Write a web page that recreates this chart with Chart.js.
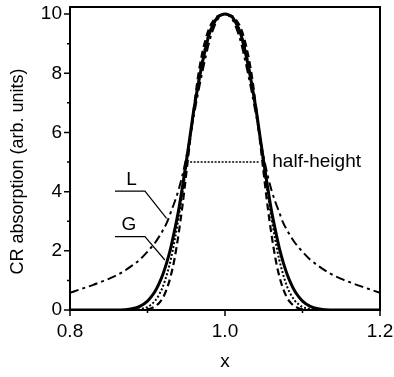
<!DOCTYPE html>
<html>
<head>
<meta charset="utf-8">
<script src="https://cdn.jsdelivr.net/npm/chart.js@4.4.1/dist/chart.umd.min.js"></script>
<style>
  html, body { margin: 0; padding: 0; background: #fff; }
</style>
</head>
<body>
<canvas id="crChart" width="394" height="377"></canvas>
<script>
const xValues = [0.80, 0.81, 0.82, 0.83, 0.84, 0.85, 0.86, 0.87, 0.88, 0.89, 0.90,
  0.905, 0.91, 0.915, 0.92, 0.925, 0.93, 0.935, 0.94, 0.945, 0.95, 0.955, 0.96, 0.965, 0.97, 0.975, 0.98, 0.985, 0.99, 0.995,
  1.00,
  1.005, 1.01, 1.015, 1.02, 1.025, 1.03, 1.035, 1.04, 1.045, 1.05, 1.055, 1.06, 1.065, 1.07, 1.075, 1.08, 1.085, 1.09, 1.095,
  1.10, 1.11, 1.12, 1.13, 1.14, 1.15, 1.16, 1.17, 1.18, 1.19, 1.20];

// solid line
const solidCurve = [0, 0, 0, 0, 0, 0, 0, 0.01, 0.04, 0.12, 0.3,
  0.45, 0.64, 0.9, 1.22, 1.62, 2.1, 2.7, 3.35, 4.15, 5.0, 5.9, 6.8, 7.55, 8.25, 8.85, 9.35, 9.65, 9.88, 9.97,
  10,
  9.97, 9.88, 9.65, 9.35, 8.85, 8.25, 7.55, 6.8, 5.9, 5.0, 4.15, 3.35, 2.7, 2.1, 1.62, 1.22, 0.9, 0.64, 0.45,
  0.3, 0.12, 0.04, 0.01, 0, 0, 0, 0, 0, 0, 0];

// dotted line
const dottedCurve = [0, 0, 0, 0, 0, 0, 0, 0, 0, 0.03, 0.1,
  0.19, 0.32, 0.52, 0.8, 1.2, 1.7, 2.35, 3.1, 3.95, 4.85, 5.85, 6.75, 7.6, 8.35, 8.95, 9.4, 9.7, 9.88, 9.95,
  10,
  9.95, 9.88, 9.7, 9.4, 8.95, 8.35, 7.6, 6.75, 5.85, 4.85, 3.95, 3.1, 2.35, 1.7, 1.2, 0.8, 0.52, 0.32, 0.19,
  0.1, 0.03, 0, 0, 0, 0, 0, 0, 0, 0, 0];

// dashed line (G)
const dashedCurve = [0, 0, 0, 0, 0, 0, 0, 0, 0, 0, 0.03,
  0.06, 0.13, 0.24, 0.42, 0.72, 1.15, 1.75, 2.55, 3.5, 4.6, 5.75, 6.85, 7.85, 8.6, 9.15, 9.55, 9.78, 9.92, 9.98,
  10,
  9.98, 9.92, 9.78, 9.55, 9.15, 8.6, 7.85, 6.85, 5.75, 4.6, 3.5, 2.55, 1.75, 1.15, 0.72, 0.42, 0.24, 0.13, 0.06,
  0.03, 0, 0, 0, 0, 0, 0, 0, 0, 0, 0];

// dash-dot line (L)
const dashDotCurve = [0.58, 0.67, 0.76, 0.85, 0.95, 1.05, 1.17, 1.32, 1.5, 1.7, 1.97,
  2.12, 2.28, 2.48, 2.7, 2.95, 3.3, 3.65, 4.05, 4.55, 5.15, 5.85, 6.6, 7.3, 7.95, 8.55, 9.1, 9.5, 9.8, 9.95,
  10,
  9.95, 9.8, 9.5, 9.1, 8.55, 7.95, 7.3, 6.6, 5.85, 5.15, 4.55, 4.05, 3.65, 3.3, 2.95, 2.7, 2.48, 2.28, 2.12,
  1.97, 1.7, 1.5, 1.32, 1.17, 1.05, 0.95, 0.85, 0.76, 0.67, 0.58];

const xTicks = [0.8, 1.0, 1.2];
const xMinorTicks = [0.9, 1.1];
const yTicks = [0, 2, 4, 6, 8, 10];
const yMinorTicks = [1, 3, 5, 7, 9];

const halfHeight = 5;
const halfLeft = 0.955;
const halfRight = 1.045;

const FONT = "'Liberation Sans', Arial, Helvetica, sans-serif";

function toPoints(ys) {
  return xValues.map((x, i) => ({ x: x, y: ys[i] }));
}

function lineSet(ys, width, dash) {
  return {
    data: toPoints(ys),
    borderColor: '#000',
    borderWidth: width,
    borderDash: dash,
    pointRadius: 0,
    fill: false,
    cubicInterpolationMode: 'monotone'
  };
}

const extras = {
  id: 'extras',
  afterDraw(chart) {
    const { ctx, chartArea: a, scales } = chart;
    const xs = scales.x, ys = scales.y;
    ctx.save();
    ctx.strokeStyle = '#000';
    ctx.fillStyle = '#000';

    // frame
    ctx.lineWidth = 2;
    ctx.strokeRect(a.left, a.top, a.right - a.left, a.bottom - a.top);

    // tick marks
    ctx.lineWidth = 1.5;
    ctx.beginPath();
    xTicks.forEach(v => { const p = xs.getPixelForValue(v); ctx.moveTo(p, a.bottom); ctx.lineTo(p, a.bottom + 6); });
    xMinorTicks.forEach(v => { const p = xs.getPixelForValue(v); ctx.moveTo(p, a.bottom); ctx.lineTo(p, a.bottom + 3); });
    yTicks.forEach(v => { const p = ys.getPixelForValue(v); ctx.moveTo(a.left, p); ctx.lineTo(a.left - 6, p); });
    yMinorTicks.forEach(v => { const p = ys.getPixelForValue(v); ctx.moveTo(a.left, p); ctx.lineTo(a.left - 3, p); });
    ctx.stroke();

    // half-height line
    const hy = ys.getPixelForValue(halfHeight);
    ctx.lineWidth = 1.5;
    ctx.setLineDash([2, 1.5]);
    ctx.beginPath();
    ctx.moveTo(xs.getPixelForValue(halfLeft), hy);
    ctx.lineTo(xs.getPixelForValue(halfRight), hy);
    ctx.stroke();
    ctx.setLineDash([]);

    ctx.font = '19px ' + FONT;
    ctx.textBaseline = 'middle';
    ctx.textAlign = 'left';
    ctx.fillText('half-height', xs.getPixelForValue(1.061), hy);

    // L and G labels with leaders
    ctx.font = '19px ' + FONT;
    ctx.textAlign = 'center';
    ctx.fillText('L', xs.getPixelForValue(0.8795), ys.getPixelForValue(4.39));
    ctx.fillText('G', xs.getPixelForValue(0.876), ys.getPixelForValue(2.89));

    ctx.lineWidth = 1.2;
    ctx.beginPath();
    ctx.moveTo(xs.getPixelForValue(0.858), ys.getPixelForValue(4.02));
    ctx.lineTo(xs.getPixelForValue(0.8967), ys.getPixelForValue(4.02));
    ctx.lineTo(xs.getPixelForValue(0.9246), ys.getPixelForValue(3.10));
    ctx.moveTo(xs.getPixelForValue(0.858), ys.getPixelForValue(2.48));
    ctx.lineTo(xs.getPixelForValue(0.8967), ys.getPixelForValue(2.48));
    ctx.lineTo(xs.getPixelForValue(0.9224), ys.getPixelForValue(1.69));
    ctx.stroke();

    // axis titles
    ctx.font = '19px ' + FONT;
    ctx.textAlign = 'center';
    ctx.fillText('x', (a.left + a.right) / 2, 362);
    ctx.translate(18, (a.top + a.bottom) / 2 + 13);
    ctx.rotate(-Math.PI / 2);
    ctx.font = '18px ' + FONT;
    ctx.fillText('CR absorption (arb. units)', 0, 0);
    ctx.restore();
  }
};

new Chart(document.getElementById('crChart'), {
  type: 'line',
  data: {
    datasets: [
      lineSet(dashDotCurve, 2, [9, 4, 3, 4]),
      lineSet(dashedCurve, 2.2, [7, 4]),
      lineSet(dottedCurve, 2, [2, 2]),
      lineSet(solidCurve, 3, [])
    ]
  },
  options: {
    responsive: false,
    animation: false,
    layout: { padding: { left: 0, right: 14, top: 7, bottom: 0 } },
    plugins: { legend: { display: false }, tooltip: { enabled: false } },
    scales: {
      x: {
        type: 'linear',
        min: 0.8,
        max: 1.2,
        afterBuildTicks: s => { s.ticks = xTicks.map(v => ({ value: v })); },
        afterFit: s => { s.height = 67; s.paddingLeft = 0; s.paddingRight = 0; },
        grid: { display: false, drawTicks: false },
        border: { display: false },
        ticks: { color: '#000', padding: 10, maxRotation: 0, font: { size: 19, family: FONT }, callback: v => v.toFixed(1) }
      },
      y: {
        min: 0,
        max: 10.24,
        afterBuildTicks: s => { s.ticks = yTicks.map(v => ({ value: v })); },
        afterFit: s => { s.width = 70; s.paddingTop = 0; s.paddingBottom = 0; },
        grid: { display: false, drawTicks: false },
        border: { display: false },
        ticks: { color: '#000', padding: 8, font: { size: 19, family: FONT } }
      }
    }
  },
  plugins: [extras]
});
</script>
</body>
</html>
